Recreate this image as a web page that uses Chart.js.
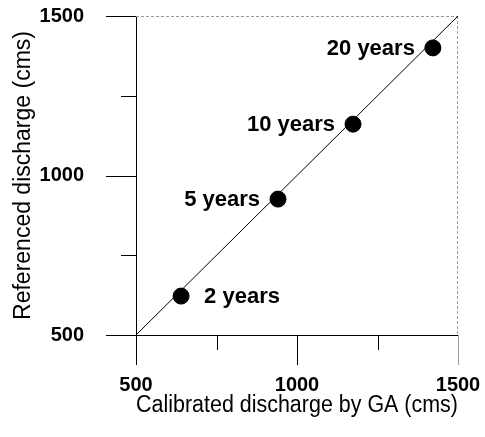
<!DOCTYPE html>
<html>
<head>
<meta charset="utf-8">
<script src="https://cdn.jsdelivr.net/npm/chart.js@4"></script>
<style>
  html, body { margin: 0; padding: 0; background: #fff; }
  canvas { display: block; }
</style>
</head>
<body>
<canvas id="c" width="485" height="437"></canvas>
<script>
// ---- data ----
const returnPeriods = ['2 years', '5 years', '10 years', '20 years'];
const calibratedGA = [640, 941, 1174, 1422];
const referenced = [622, 926, 1161, 1400];
const lineX = [500, 1500];
const lineY = [500, 1500];
const tickValues = [500, 750, 1000, 1250, 1500];
const labeledTicks = [500, 1000, 1500];
const labelSide = ['right', 'left', 'left', 'left'];

const FONT = '"Liberation Sans", Arial, sans-serif';

const pointData = calibratedGA.map((x, i) => ({ x: x, y: referenced[i] }));
const lineData = lineX.map((x, i) => ({ x: x, y: lineY[i] }));

const decorPlugin = {
  id: 'decor',
  beforeDatasetsDraw(chart) {
    const ctx = chart.ctx;
    const a = chart.chartArea;
    const xs = chart.scales.x, ys = chart.scales.y;
    ctx.save();
    // faint top/right frame
    ctx.strokeStyle = '#9a9a9a';
    ctx.lineWidth = 1;
    ctx.setLineDash([3, 2]);
    ctx.beginPath();
    ctx.moveTo(a.left, a.top + 0.5); ctx.lineTo(a.right, a.top + 0.5);
    ctx.moveTo(a.right - 0.5, a.top); ctx.lineTo(a.right - 0.5, a.bottom);
    ctx.stroke();
    ctx.setLineDash([]);
    // tick marks (outside)
    tickValues.forEach(v => {
      const major = labeledTicks.includes(v);
      const len = major ? 30 : 15;
      const px = Math.round(xs.getPixelForValue(v)) + 0.5;
      ctx.strokeStyle = (v === 1500) ? '#9a9a9a' : '#000';
      ctx.beginPath();
      ctx.moveTo(px, a.bottom); ctx.lineTo(px, a.bottom + len);
      ctx.stroke();
      const py = Math.round(ys.getPixelForValue(v)) + 0.5;
      ctx.strokeStyle = '#000';
      ctx.beginPath();
      ctx.moveTo(a.left, py); ctx.lineTo(a.left - len, py);
      ctx.stroke();
    });
    ctx.restore();
  },
  afterDatasetsDraw(chart) {
    const ctx = chart.ctx;
    const meta = chart.getDatasetMeta(0);
    ctx.save();
    ctx.font = 'bold 22px ' + FONT;
    ctx.fillStyle = '#000';
    ctx.textBaseline = 'middle';
    meta.data.forEach((el, i) => {
      if (labelSide[i] === 'right') {
        ctx.textAlign = 'left';
        ctx.fillText(returnPeriods[i], el.x + 23, el.y + 1);
      } else {
        ctx.textAlign = 'right';
        ctx.fillText(returnPeriods[i], el.x - 18, el.y + 1);
      }
    });
    ctx.restore();
  }
};

new Chart(document.getElementById('c'), {
  type: 'scatter',
  data: {
    datasets: [
      {
        data: pointData,
        backgroundColor: '#000',
        borderColor: '#000',
        pointRadius: 8,
        pointHoverRadius: 8,
        order: 0
      },
      {
        data: lineData,
        showLine: true,
        borderColor: '#000',
        borderWidth: 1,
        pointRadius: 0,
        fill: false,
        order: 1
      }
    ]
  },
  options: {
    responsive: false,
    animation: false,
    devicePixelRatio: 1,
    layout: { padding: { left: 0, right: 27, top: 16, bottom: 0 } },
    plugins: { legend: { display: false }, tooltip: { enabled: false } },
    scales: {
      x: {
        type: 'linear',
        min: 500, max: 1500,
        afterFit: s => { s.height = 102; s.paddingLeft = 0; s.paddingRight = 0; },
        afterBuildTicks: s => { s.ticks = tickValues.map(v => ({ value: v })); },
        grid: { display: true, drawOnChartArea: false, drawTicks: false },
        border: { display: true, color: '#000', width: 1 },
        ticks: {
          autoSkip: false,
          maxRotation: 0,
          padding: 38,
          color: '#000',
          font: { family: FONT, size: 20, weight: 'bold' },
          callback: v => labeledTicks.includes(v) ? String(v) : ''
        },
        title: {
          display: true,
          text: 'Calibrated discharge by GA (cms)',
          color: '#000',
          font: { family: FONT, size: 23 },
          padding: { top: 0, bottom: 18 }
        }
      },
      y: {
        type: 'linear',
        min: 500, max: 1500,
        afterFit: s => { s.width = 136; s.paddingTop = 0; s.paddingBottom = 0; },
        afterBuildTicks: s => { s.ticks = tickValues.map(v => ({ value: v })); },
        grid: { display: true, drawOnChartArea: false, drawTicks: false },
        border: { display: true, color: '#000', width: 1 },
        ticks: {
          autoSkip: false,
          padding: 52,
          color: '#000',
          font: { family: FONT, size: 20, weight: 'bold' },
          callback: v => labeledTicks.includes(v) ? String(v) : ''
        },
        title: {
          display: true,
          text: 'Referenced discharge (cms)',
          color: '#000',
          font: { family: FONT, size: 23 },
          padding: { top: 10, bottom: 0 }
        }
      }
    }
  },
  plugins: [decorPlugin]
});
</script>
</body>
</html>
